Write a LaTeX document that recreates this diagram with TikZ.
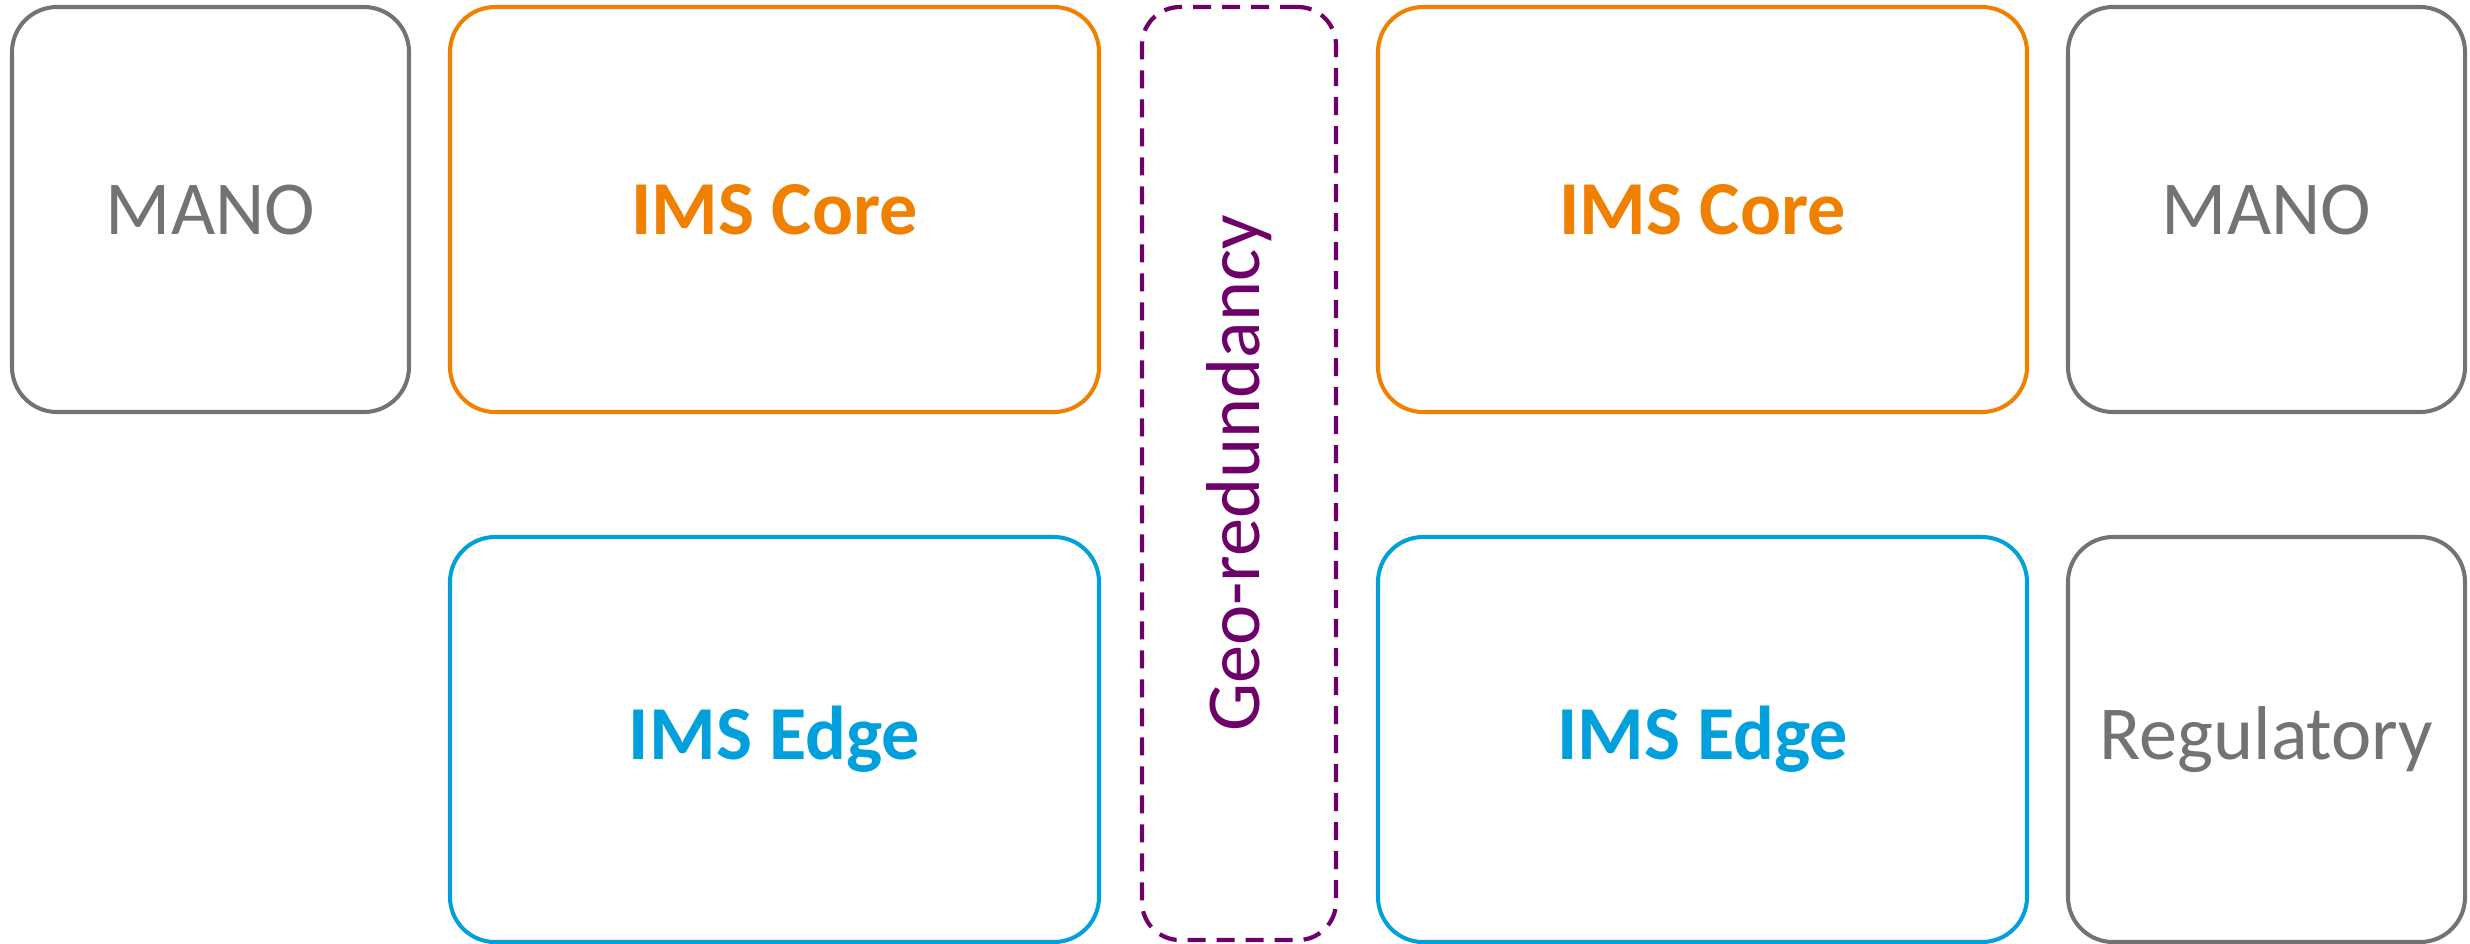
\documentclass[tikz,border=0pt]{standalone}
\usepackage{fontspec}
\setmainfont{Carlito}
\usepackage{xcolor}
\usepackage{tikz}
\usetikzlibrary{
  positioning
}
\definecolor{manogray}{RGB}{115,115,115}
\definecolor{coreorange}{RGB}{240,128,0}
\definecolor{edgeblue}{RGB}{0,160,220}
\definecolor{geopurple}{RGB}{110,0,105}
\newcommand{\boxfont}{\fontsize{21.7}{26}\selectfont}

\begin{document}
\begin{tikzpicture}[
  block/.style={draw, rounded corners=0.45cm, line width=1.15pt, outer sep=0pt,
                inner sep=0pt, align=center, font=\boxfont},
  side/.style={block, draw=manogray, text=manogray,
               minimum width=3.97cm, minimum height=4.05cm},
  core/.style={block, draw=coreorange, text=coreorange, font=\boxfont\bfseries,
               minimum width=6.49cm, minimum height=4.05cm},
  edge/.style={block, draw=edgeblue, text=edgeblue, font=\boxfont\bfseries,
               minimum width=6.49cm, minimum height=4.05cm},
  geo/.style={block, draw=geopurple, text=geopurple, rounded corners=0.38cm,
              line width=1.2pt, dash pattern=on 0.18cm off 0.11cm,
              minimum width=1.94cm, minimum height=9.33cm},
  node distance=1.25cm and 0.41cm
]
\useasboundingbox (0,0) rectangle (24.70,-9.43);

% ── Row 1: MANO / Core / Geo / Core / MANO ──
\node[side, anchor=north west] at (0.12,-0.07) (mano1) {MANO};
\node[core, right=of mano1] (core1) {IMS Core};
\node[geo, below right=0cm and 0.43cm of core1.north east] (geo)
  {\rotatebox{90}{Geo-redundancy}};
\node[core, below right=0cm and 0.42cm of geo.north east] (core2) {IMS Core};
\node[side, right=of core2] (mano2) {MANO};

% ── Row 2: Edge / Edge / Regulatory ──
\node[edge, below=of core1] (edge1) {IMS Edge};
\node[edge, below=of core2] (edge2) {IMS Edge};
\node[side, below=of mano2] (reg) {Regulatory};

\end{tikzpicture}
\end{document}
